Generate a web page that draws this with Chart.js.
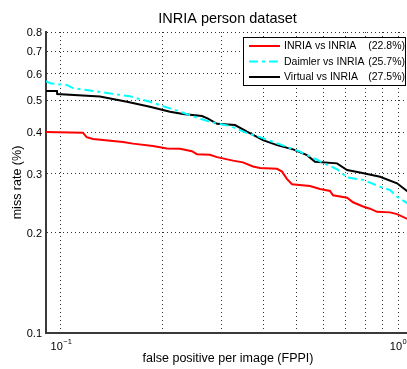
<!DOCTYPE html>
<html>
<head>
<meta charset="utf-8">
<script src="https://cdn.jsdelivr.net/npm/chart.js@4/dist/chart.umd.min.js"></script>
<style>
    html, body { margin: 0; padding: 0; background: #fff; overflow: hidden; }
</style>
</head>
<body>
<canvas id="roc" width="407" height="369"></canvas>
<script>
// Series data: false positives per image vs. miss rate
const seriesNames = ['INRIA vs INRIA', 'Daimler vs INRIA', 'Virtual vs INRIA'];
const seriesRates = ['(22.8%)', '(25.7%)', '(27.5%)'];

const inriaFppi = [0.0903, 0.1162, 0.1192, 0.1245, 0.1528, 0.1635, 0.1875, 0.2063, 0.2254, 0.2446, 0.2532, 0.2767, 0.2903, 0.3238, 0.3467, 0.3712, 0.3895, 0.4375, 0.4527, 0.4685, 0.4848, 0.548, 0.5868, 0.6284, 0.6413, 0.706, 0.7354, 0.7872, 0.8258, 0.8663, 0.9469, 0.9931, 1.07];
const inriaMiss = [0.401, 0.399, 0.387, 0.382, 0.374, 0.370, 0.364, 0.358, 0.357, 0.351, 0.344, 0.3425, 0.337, 0.329, 0.325, 0.316, 0.3126, 0.311, 0.305, 0.2895, 0.2794, 0.2762, 0.2704, 0.2667, 0.2589, 0.2547, 0.2467, 0.2396, 0.236, 0.231, 0.2301, 0.2273, 0.2195];

const daimlerFppi = [0.0903, 0.0928, 0.1042, 0.1085, 0.1219, 0.1369, 0.1602, 0.1836, 0.2106, 0.2209, 0.2585, 0.2767, 0.3173, 0.3563, 0.3895, 0.4466, 0.5119, 0.5748, 0.599, 0.6592, 0.706, 0.7872, 0.8843, 0.9469, 0.9931, 1.07];
const daimlerMiss = [0.570, 0.561, 0.555, 0.543, 0.534, 0.525, 0.513, 0.494, 0.472, 0.4646, 0.4398, 0.430, 0.418, 0.398, 0.387, 0.368, 0.350, 0.331, 0.324, 0.310, 0.293, 0.288, 0.2747, 0.2685, 0.2564, 0.2445];

const virtualFppi = [0.0903, 0.0973, 0.0975, 0.1305, 0.157, 0.1836, 0.2106, 0.2301, 0.2621, 0.2731, 0.2903, 0.3283, 0.3563, 0.3975, 0.4375, 0.4881, 0.537, 0.5671, 0.6592, 0.706, 0.7711, 0.8843, 0.9931, 1.07];
const virtualMiss = [0.532, 0.532, 0.521, 0.512, 0.494, 0.4775, 0.4613, 0.454, 0.4475, 0.440, 0.4244, 0.4206, 0.4017, 0.379, 0.3662, 0.3555, 0.3417, 0.3265, 0.3228, 0.3083, 0.3032, 0.2943, 0.2813, 0.2655];

// Axis ticks
const xGrid = [0.1, 0.2, 0.3, 0.4, 0.5, 0.6, 0.7, 0.8, 0.9, 1];
const xMajor = [0.1, 1];
const xExponents = ['\u22121', '0'];
const yGrid = [0.1, 0.2, 0.3, 0.4, 0.5, 0.6, 0.7, 0.8];
const yTickLabels = ['0.1', '0.2', '0.3', '0.4', '0.5', '0.6', '0.7', '0.8'];

const FONT = "'Liberation Sans', Arial, Helvetica, sans-serif";

function toPoints(xs, ys) {
    return xs.map((x, i) => ({ x: x, y: ys[i] }));
}

// Titles, tick labels and the legend box
const annotations = {
    id: 'annotations',
    beforeDraw(chart) {
        const ctx = chart.ctx;
        ctx.save();
        ctx.fillStyle = '#fff';
        ctx.fillRect(0, 0, chart.width, chart.height);
        ctx.restore();
    },
    afterDraw(chart) {
        const ctx = chart.ctx;
        const xs = chart.scales.x;
        const ys = chart.scales.y;
        const area = chart.chartArea;
        ctx.save();
        ctx.fillStyle = '#000';

        // title
        ctx.font = '14.5px ' + FONT;
        ctx.textAlign = 'center';
        ctx.textBaseline = 'alphabetic';
        ctx.fillText('INRIA person dataset', 227.5, 23);

        // y tick labels
        ctx.font = '11px ' + FONT;
        ctx.textAlign = 'right';
        ctx.textBaseline = 'middle';
        yGrid.forEach((v, i) => {
            ctx.fillText(yTickLabels[i], area.left - 4, ys.getPixelForValue(v) + 1);
        });

        // x tick labels, 10 with superscript exponent
        ctx.textBaseline = 'alphabetic';
        ctx.textAlign = 'left';
        xMajor.forEach((v, i) => {
            const px = xs.getPixelForValue(v);
            ctx.font = '11px ' + FONT;
            const wBase = ctx.measureText('10').width;
            ctx.font = '7.5px ' + FONT;
            const wExp = ctx.measureText(xExponents[i]).width;
            const left = px - (wBase + wExp) / 2;
            ctx.font = '11px ' + FONT;
            ctx.fillText('10', left, 350);
            ctx.font = '7.5px ' + FONT;
            ctx.fillText(xExponents[i], left + wBase + 0.5, 344);
        });

        // axis titles
        ctx.font = '12.5px ' + FONT;
        ctx.textAlign = 'center';
        ctx.fillText('false positive per image (FPPI)', 228, 361.5);
        ctx.save();
        ctx.translate(21, 182.5);
        ctx.rotate(-Math.PI / 2);
        ctx.fillText('miss rate (%)', 0, 0);
        ctx.restore();

        // legend
        const box = { left: 243.5, top: 37.5, right: 405.5, bottom: 85.5 };
        ctx.fillStyle = '#fff';
        ctx.fillRect(box.left, box.top, box.right - box.left, box.bottom - box.top);
        ctx.strokeStyle = '#000';
        ctx.lineWidth = 1;
        ctx.strokeRect(box.left, box.top, box.right - box.left, box.bottom - box.top);
        const rows = [46, 61.5, 77];
        chart.data.datasets.forEach((ds, i) => {
            const y = rows[i];
            ctx.beginPath();
            ctx.setLineDash(ds.borderDash || []);
            ctx.strokeStyle = ds.borderColor;
            ctx.lineWidth = ds.borderWidth;
            ctx.moveTo(249, y);
            ctx.lineTo(280, y);
            ctx.stroke();
            ctx.setLineDash([]);
            ctx.fillStyle = '#000';
            ctx.font = '10.5px ' + FONT;
            ctx.textBaseline = 'middle';
            ctx.textAlign = 'left';
            ctx.fillText(seriesNames[i], 284, y + 0.5);
            ctx.textAlign = 'right';
            ctx.fillText(seriesRates[i], 405, y + 0.5);
        });
        ctx.restore();
    }
};

const gridStyle = {
    color: 'rgba(0, 0, 0, 0.8)',
    lineWidth: 1,
    drawTicks: false
};

new Chart(document.getElementById('roc'), {
    type: 'line',
    data: {
        datasets: [
            {
                label: seriesNames[0],
                data: toPoints(inriaFppi, inriaMiss),
                borderColor: '#ff0000',
                borderWidth: 2,
                pointRadius: 0,
                fill: false,
                tension: 0
            },
            {
                label: seriesNames[1],
                data: toPoints(daimlerFppi, daimlerMiss),
                borderColor: '#00ffff',
                borderWidth: 2,
                borderDash: [9, 4, 3, 4],
                pointRadius: 0,
                fill: false,
                tension: 0
            },
            {
                label: seriesNames[2],
                data: toPoints(virtualFppi, virtualMiss),
                borderColor: '#000000',
                borderWidth: 2,
                pointRadius: 0,
                fill: false,
                tension: 0
            }
        ]
    },
    options: {
        responsive: false,
        animation: false,
        layout: { padding: { left: 46, top: 32, right: 0, bottom: 36 } },
        plugins: {
            legend: { display: false },
            title: { display: false },
            tooltip: { enabled: false }
        },
        scales: {
            x: {
                type: 'logarithmic',
                min: 0.0903,
                max: 1.063,
                afterBuildTicks: scale => { scale.ticks = xGrid.map(v => ({ value: v })); },
                ticks: { display: false },
                grid: gridStyle,
                border: { display: true, color: '#3a3a3a', width: 2, dash: [1, 3] }
            },
            y: {
                type: 'logarithmic',
                min: 0.1,
                max: 0.8,
                afterBuildTicks: scale => { scale.ticks = yGrid.map(v => ({ value: v })); },
                ticks: { display: false },
                grid: gridStyle,
                border: { display: true, color: '#3a3a3a', width: 2, dash: [1, 3] }
            }
        }
    },
    plugins: [annotations]
});
</script>
</body>
</html>
